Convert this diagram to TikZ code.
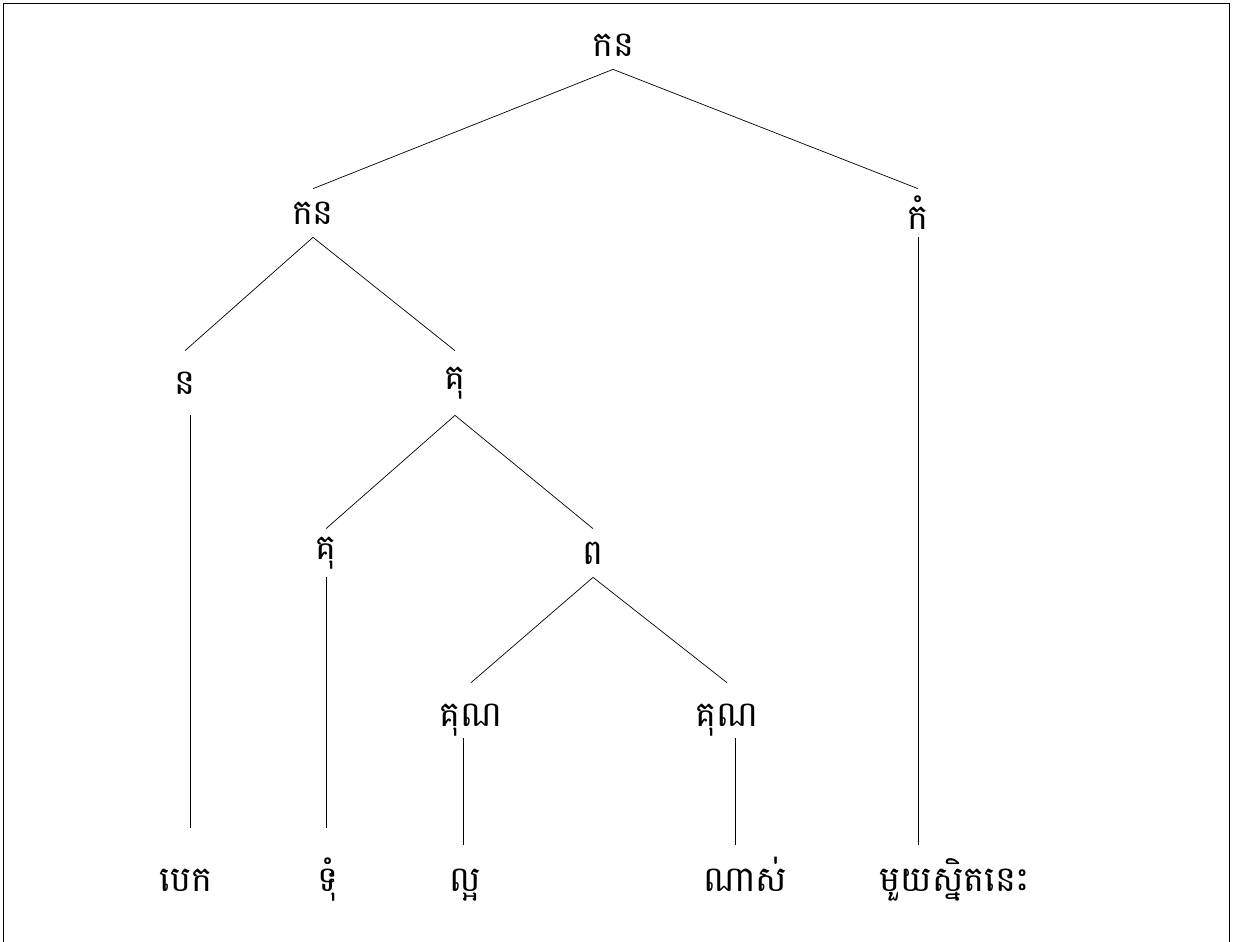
\documentclass[tikz,border=0pt]{standalone}
\usepackage{fontspec}
\newfontfamily\khmerfont[Script=Khmer]{Battambang}
\usetikzlibrary{positioning}

\begin{document}
\begin{tikzpicture}[%
x={(0.02cm,0cm)},
y={(0cm,-0.02cm)},
every node/.style={font=\khmerfont\fontsize{20}{24}\selectfont,inner sep=0pt,minimum height=0.96cm},
tall/.style={minimum height=1.28cm},
low/.style={minimum height=1.48cm},
leaf/.style={minimum height=1.4cm,text height=0.5cm,text depth=0.06cm},
]

\useasboundingbox (0,0) rectangle (1233,942);
\draw (3,950) -- (3,3) -- (1229,3) -- (1229,950);

%Knoten
\node (kn) at (613,45) {កន};
\node (knl) at (313,213) {កន};
\node (kam) at (918,213) {កំ};
\node[tall] (n) at (185,383) {ន};
\node[tall] (gul) at (455,383) {គុ};
\node (gu) at (326,553) {គុ};
\node (po) at (593,553) {ព};
\node[low] (guna) at (471,720) {គុណ};
\node[low] (gunb) at (727,720) {គុណ};

%Blaetter
\node[leaf] (bek) at (186,880) {បេក};
\node[leaf] (tum) at (328,880) {ទុំ};
\node[leaf] (laor) at (465,880) {ល្អ};
\node[leaf] (nas) at (745,880) {ណាស់};
\node[leaf] (mouy) at (955,880) {មួយស្និតនេះ};

%Kanten
\draw (kn.south) -- (knl.north);
\draw (kn.south) -- (kam.north);
\draw (knl.south) -- (n.north);
\draw (knl.south) -- (gul.north);
\draw (gul.south) -- (gu.north);
\draw (gul.south) -- (po.north);
\draw (po.south) -- (guna.north);
\draw (po.south) -- (gunb.north);

\draw[shorten >=0.34cm] ([xshift=0.1cm]n.south) -- ([xshift=0.1cm]n.south |- bek.north);
\draw[shorten >=0.34cm] (gu.south) -- (gu.south |- tum.north);
\draw ([xshift=-0.16cm,yshift=0.38cm]guna.south) -- ([xshift=-0.16cm]guna.south |- laor.north);
\draw ([xshift=0.16cm,yshift=0.38cm]gunb.south) -- ([xshift=0.16cm]gunb.south |- nas.north);
\draw (kam.south) -- (kam.south |- mouy.north);

\end{tikzpicture}
\end{document}
